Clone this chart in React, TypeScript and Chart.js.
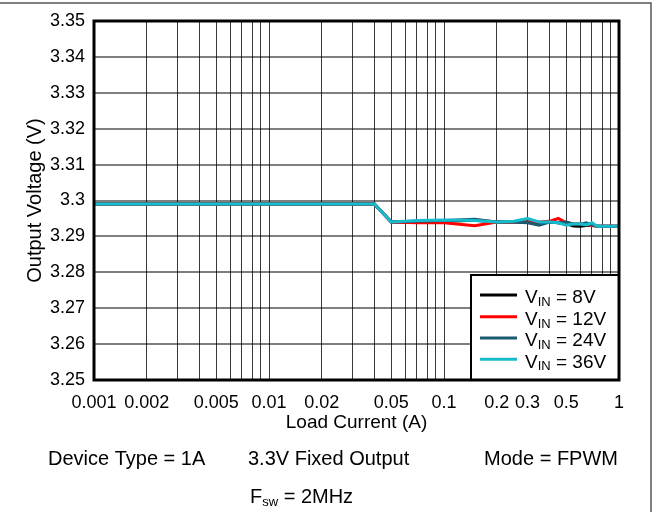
import React, { useEffect, useRef } from 'react';
import { Chart, registerables } from 'chart.js';

Chart.register(...registerables);

const FONT = "'Liberation Sans', Arial, Helvetica, sans-serif";

// Load current (A)
const LOAD_A = [0.001, 0.01, 0.02, 0.04, 0.05, 0.07, 0.1, 0.15, 0.2, 0.25, 0.3, 0.35, 0.4, 0.45, 0.5, 0.55, 0.6, 0.65, 0.7, 0.75, 0.85, 1];
// Output voltage (V) per input voltage
const VOUT_8V = [3.299, 3.299, 3.299, 3.299, 3.294, 3.294, 3.2942, 3.2945, 3.294, 3.294, 3.2941, 3.2935, 3.294, 3.2938, 3.2935, 3.2929, 3.2928, 3.293, 3.2932, 3.2928, 3.2928, 3.2928];
const VOUT_12V = [3.299, 3.299, 3.299, 3.299, 3.294, 3.2938, 3.2938, 3.293, 3.294, 3.294, 3.294, 3.294, 3.2942, 3.295, 3.2938, 3.2935, 3.2935, 3.2934, 3.293, 3.2928, 3.2928, 3.2928];
const VOUT_24V = [3.299, 3.299, 3.299, 3.299, 3.294, 3.2942, 3.2944, 3.2948, 3.294, 3.294, 3.2938, 3.2931, 3.294, 3.2938, 3.294, 3.2934, 3.2933, 3.2938, 3.2932, 3.2928, 3.2928, 3.2928];
const VOUT_36V = [3.299, 3.299, 3.299, 3.299, 3.294, 3.2944, 3.2946, 3.2944, 3.294, 3.2942, 3.295, 3.294, 3.294, 3.2938, 3.2931, 3.2935, 3.2935, 3.2932, 3.2938, 3.2928, 3.2928, 3.2928];

const SERIES_VIN = ['8V', '12V', '24V', '36V'];
const SERIES_COLORS = ['#000000', '#ff0000', '#1b5b70', '#17bccc'];
const SERIES_VALUES = [VOUT_8V, VOUT_12V, VOUT_24V, VOUT_36V];

const X_TICK_VALUES = [0.001, 0.002, 0.005, 0.01, 0.02, 0.05, 0.1, 0.2, 0.3, 0.5, 1];
const X_TICK_LABELS = ['0.001', '0.002', '0.005', '0.01', '0.02', '0.05', '0.1', '0.2', '0.3', '0.5', '1'];
const X_DECADES = [0.001, 0.01, 0.1];
const X_MULTIPLIERS = [1, 2, 3, 4, 5, 6, 7, 8, 9];
const Y_TICKS = [3.25, 3.26, 3.27, 3.28, 3.29, 3.3, 3.31, 3.32, 3.33, 3.34, 3.35];
const Y_TICK_LABELS = ['3.25', '3.26', '3.27', '3.28', '3.29', '3.3', '3.31', '3.32', '3.33', '3.34', '3.35'];

const X_GRID: number[] = [];
X_DECADES.forEach((d) => X_MULTIPLIERS.forEach((m) => X_GRID.push(+(d * m).toPrecision(6))));
X_GRID.push(1);

const decorPlugin = {
  id: 'decor',
  beforeDraw(chart: any) {
    const ctx = chart.ctx;
    ctx.save();
    ctx.strokeStyle = '#555555';
    ctx.lineWidth = 1.5;
    ctx.beginPath();
    ctx.moveTo(0, 3);
    ctx.lineTo(651, 3);
    ctx.lineTo(651, 512);
    ctx.stroke();
    ctx.restore();
  },
  afterDatasetsDraw(chart: any) {
    const ctx = chart.ctx;
    const { left, top, right, bottom } = chart.chartArea;
    ctx.save();
    // legend box
    const bx = right - 148;
    const by = bottom - 105;
    ctx.fillStyle = '#ffffff';
    ctx.fillRect(bx, by, right - bx, bottom - by);
    ctx.strokeStyle = '#000000';
    ctx.lineWidth = 2;
    ctx.strokeRect(bx, by, right - bx, bottom - by);
    const rowLine = [20, 41.7, 63, 84.3];
    SERIES_VIN.forEach((vin, i) => {
      const ly = by + rowLine[i];
      ctx.strokeStyle = SERIES_COLORS[i];
      ctx.lineWidth = 3;
      ctx.beginPath();
      ctx.moveTo(bx + 9, ly);
      ctx.lineTo(bx + 46, ly);
      ctx.stroke();
      const base = ly + 8.3;
      let tx = bx + 54;
      ctx.fillStyle = '#000000';
      ctx.textBaseline = 'alphabetic';
      ctx.textAlign = 'left';
      ctx.font = `19px ${FONT}`;
      ctx.fillText('V', tx, base);
      tx += ctx.measureText('V').width;
      ctx.font = `13px ${FONT}`;
      ctx.fillText('IN', tx, base + 2.5);
      tx += ctx.measureText('IN').width;
      ctx.font = `19px ${FONT}`;
      ctx.fillText(` = ${vin}`, tx, base);
    });
    // plot frame
    ctx.strokeStyle = '#000000';
    ctx.lineWidth = 3;
    ctx.strokeRect(left, top, right - left, bottom - top);
    // condition annotations
    ctx.fillStyle = '#000000';
    ctx.textAlign = 'left';
    ctx.textBaseline = 'alphabetic';
    ctx.font = `20px ${FONT}`;
    ctx.fillText('Device Type = 1A', 48, 465);
    ctx.fillText('3.3V Fixed Output', 248, 465);
    ctx.textAlign = 'right';
    ctx.fillText('Mode = FPWM', 618, 465);
    ctx.textAlign = 'left';
    let fx = 250;
    ctx.fillText('F', fx, 503);
    fx += ctx.measureText('F').width;
    ctx.font = `13px ${FONT}`;
    ctx.fillText('sw', fx, 506);
    fx += ctx.measureText('sw').width;
    ctx.font = `20px ${FONT}`;
    ctx.fillText(' = 2MHz', fx, 503);
    ctx.restore();
  },
};

export default function App() {
  const ref = useRef<HTMLCanvasElement>(null);
  useEffect(() => {
    if (!ref.current) return;
    Chart.defaults.font.family = FONT;
    const chart = new Chart(ref.current, {
      type: 'line',
      data: {
        datasets: SERIES_VIN.map((vin, i) => ({
          label: `VIN = ${vin}`,
          data: LOAD_A.map((x, j) => ({ x, y: SERIES_VALUES[i][j] })),
          borderColor: SERIES_COLORS[i],
          backgroundColor: SERIES_COLORS[i],
          borderWidth: 3,
          pointRadius: 0,
          tension: 0,
          fill: false,
          order: SERIES_VIN.length - i,
        })),
      },
      options: {
        responsive: false,
        animation: false,
        layout: { padding: { left: 0, top: 21, right: 35, bottom: 78 } },
        plugins: { legend: { display: false }, tooltip: { enabled: false } },
        scales: {
          x: {
            type: 'logarithmic',
            min: 0.001,
            max: 1,
            afterBuildTicks: (s: any) => {
              s.ticks = X_GRID.map((v) => ({ value: v }));
            },
            afterFit: (s: any) => {
              s.height = 54;
            },
            ticks: {
              autoSkip: false,
              maxRotation: 0,
              padding: 12,
              color: '#000000',
              font: { size: 18, family: FONT },
              callback: (value: any) => {
                const v = Number(value);
                const k = X_TICK_VALUES.findIndex((t) => Math.abs(t - v) / t < 1e-6);
                return k >= 0 ? X_TICK_LABELS[k] : '';
              },
            },
            grid: { color: '#3a3a3a', lineWidth: 1, drawTicks: false },
            border: { display: false },
            title: {
              display: true,
              text: 'Load Current (A)',
              color: '#000000',
              font: { size: 19, family: FONT },
              padding: { top: 0, bottom: 0 },
            },
          },
          y: {
            type: 'linear',
            min: 3.25,
            max: 3.35,
            afterBuildTicks: (s: any) => {
              s.ticks = Y_TICKS.map((v) => ({ value: v }));
            },
            afterFit: (s: any) => {
              s.width = 94;
            },
            ticks: {
              padding: 9,
              color: '#000000',
              font: { size: 18, family: FONT },
              callback: (value: any) => {
                const v = Number(value);
                const k = Y_TICKS.findIndex((t) => Math.abs(t - v) < 1e-6);
                return k >= 0 ? Y_TICK_LABELS[k] : '';
              },
            },
            grid: { color: 'rgba(0,0,0,0.5)', lineWidth: 2, drawTicks: false },
            border: { display: false },
            title: {
              display: true,
              text: 'Output Voltage (V)',
              color: '#000000',
              font: { size: 20, family: FONT },
              padding: { top: 23, bottom: 0 },
            },
          },
        },
      },
      plugins: [decorPlugin],
    } as any);
    return () => chart.destroy();
  }, []);
  return (
    <div style={{ position: 'fixed', left: 0, top: 0, width: 654, height: 512, background: '#ffffff' }}>
      <canvas ref={ref} width={654} height={512} style={{ display: 'block', width: 654, height: 512 }} />
    </div>
  );
}
